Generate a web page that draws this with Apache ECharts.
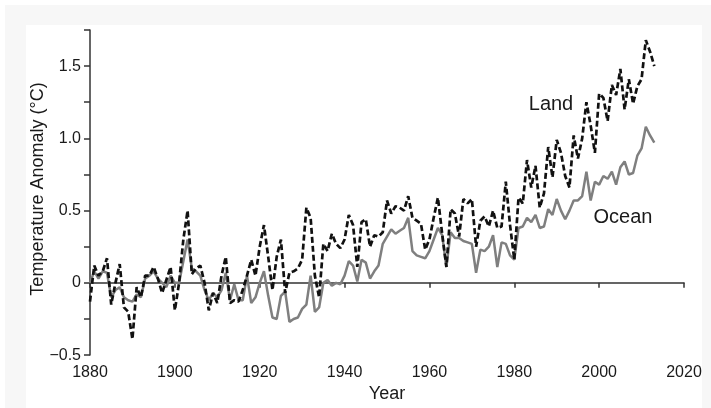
<!DOCTYPE html>
<html>
<head>
<meta charset="utf-8">
<script src="https://cdn.jsdelivr.net/npm/echarts@6/dist/echarts.min.js"></script>
<style>
html,body{margin:0;padding:0;background:#fff;}
#chart{width:711px;height:408px;}
</style>
</head>
<body>
<div id="chart"></div>
<script>
var startYear = 1880;
var endYear = 2013;
var xTicks = [1880, 1900, 1920, 1940, 1960, 1980, 2000, 2020];
var yTicks = [-0.5, 0, 0.5, 1.0, 1.5];

var land = [
 -0.13, 0.12, 0.05, 0.08, 0.17, -0.15, 0.00, 0.13, -0.17, -0.20,
 -0.39, -0.03, -0.10, 0.05, 0.05, 0.11, 0.03, -0.07, 0.02, 0.11,
 -0.19, 0.00, 0.30, 0.50, 0.06, 0.10, 0.12, 0.00, -0.19, -0.07,
 -0.14, 0.05, 0.18, -0.14, -0.12, -0.13, -0.05, 0.05, 0.16, 0.05,
 0.25, 0.40, 0.18, -0.05, 0.18, 0.30, -0.07, 0.07, 0.08, 0.10,
 0.16, 0.52, 0.45, 0.05, -0.10, 0.27, 0.22, 0.34, 0.27, 0.24,
 0.30, 0.47, 0.40, 0.11, 0.42, 0.44, 0.25, 0.33, 0.32, 0.35,
 0.57, 0.48, 0.53, 0.52, 0.50, 0.60, 0.45, 0.43, 0.41, 0.23,
 0.30, 0.45, 0.59, 0.34, 0.11, 0.51, 0.48, 0.32, 0.58, 0.55,
 0.58, 0.25, 0.43, 0.46, 0.39, 0.50, 0.38, 0.39, 0.70, 0.40,
 0.16, 0.59, 0.55, 0.85, 0.66, 0.81, 0.52, 0.62, 0.94, 0.73,
 0.99, 0.90, 0.74, 0.66, 1.02, 0.86, 1.00, 1.25, 1.09, 0.90,
 1.31, 1.28, 1.12, 1.37, 1.30, 1.48, 1.20, 1.41, 1.24, 1.36,
 1.41, 1.68, 1.60, 1.50
];

var ocean = [
 0.00, 0.08, 0.03, 0.08, 0.07, -0.10, -0.05, -0.03, -0.10, -0.12,
 -0.13, -0.08, -0.10, 0.03, 0.05, 0.08, 0.03, 0.00, -0.03, 0.05,
 0.00, 0.00, 0.15, 0.30, 0.10, 0.08, 0.05, -0.05, -0.12, -0.07,
 -0.10, -0.05, 0.07, -0.12, -0.01, -0.12, -0.12, 0.05, -0.14, -0.10,
 0.00, 0.08, -0.09, -0.24, -0.25, -0.09, -0.06, -0.27, -0.25, -0.24,
 -0.18, -0.15, 0.05, -0.20, -0.17, 0.00, 0.02, -0.02, 0.00, -0.01,
 0.05, 0.15, 0.12, 0.01, 0.16, 0.14, 0.03, 0.08, 0.12, 0.27,
 0.32, 0.37, 0.34, 0.36, 0.38, 0.45, 0.22, 0.19, 0.18, 0.17,
 0.22, 0.30, 0.38, 0.33, 0.11, 0.35, 0.31, 0.31, 0.29, 0.28,
 0.27, 0.07, 0.23, 0.22, 0.25, 0.33, 0.11, 0.28, 0.27, 0.19,
 0.16, 0.38, 0.39, 0.45, 0.42, 0.47, 0.38, 0.39, 0.51, 0.47,
 0.58, 0.50, 0.44, 0.50, 0.57, 0.57, 0.60, 0.77, 0.57, 0.70,
 0.68, 0.74, 0.72, 0.77, 0.68, 0.80, 0.84, 0.75, 0.76, 0.88,
 0.93, 1.08, 1.02, 0.97
];

var years = [];
for (var y = startYear; y <= endYear; y++) years.push(y);

function pairs(vals) {
  return vals.map(function (v, i) { return [years[i], v]; });
}

var font = "'Liberation Sans', Arial, Helvetica, sans-serif";

var chart = echarts.init(document.getElementById('chart'), null, {renderer: 'canvas'});
chart.setOption({
  animation: false,
  backgroundColor: '#ffffff',
  graphic: [
    {type: 'rect', z: -10, shape: {x: 5, y: 5, width: 706, height: 403}, style: {fill: '#f7f7f7'}},
    {type: 'rect', z: -9, shape: {x: 26, y: 25, width: 676, height: 383}, style: {fill: '#ffffff'}},
    {type: 'text', x: 551, y: 104, z: 10,
     style: {text: 'Land', font: "20px " + font, fill: '#1a1a1a', align: 'center', verticalAlign: 'middle'}},
    {type: 'text', x: 623, y: 217, z: 10,
     style: {text: 'Ocean', font: "20px " + font, fill: '#1a1a1a', align: 'center', verticalAlign: 'middle'}},
    {type: 'text', x: 29, y: 189, rotation: Math.PI / 2,
     style: {text: 'Temperature Anomaly (°C)', font: "18px " + font, fill: '#1a1a1a', align: 'center', verticalAlign: 'top'}}
  ],
  grid: {left: 90, right: 27, top: 30, bottom: 48},
  xAxis: {
    type: 'value', min: xTicks[0], max: xTicks[xTicks.length - 1], interval: 20,
    name: 'Year', nameLocation: 'middle', nameGap: 28,
    nameTextStyle: {fontFamily: font, fontSize: 18, color: '#1a1a1a'},
    axisLine: {show: true, lineStyle: {color: '#333', width: 1.5}},
    axisTick: {show: true, length: 5, lineStyle: {color: '#333', width: 1.5}},
    axisLabel: {fontFamily: font, fontSize: 16, color: '#1a1a1a', margin: 9,
      formatter: function (v) { return String(v); }},
    splitLine: {show: false}
  },
  yAxis: {
    type: 'value', min: yTicks[0], max: 1.75, interval: 0.25,
    axisLine: {show: true, lineStyle: {color: '#333', width: 1.5}},
    axisTick: {show: true, length: 6, lineStyle: {color: '#333', width: 1.5}},
    axisLabel: {
      fontFamily: font, fontSize: 16, color: '#1a1a1a', margin: 9,
      formatter: function (v) {
        var r = Math.round(v * 100) / 100;
        var hit = yTicks.some(function (t) { return Math.abs(t - r) < 1e-6; });
        if (!hit) return '';
        if (r === 0) return '0';
        return (r < 0 ? '\u2212' : '') + Math.abs(r).toFixed(1);
      }
    },
    splitLine: {show: false}
  },
  series: [
    {
      name: 'Ocean', type: 'line', data: pairs(ocean), showSymbol: false, symbol: 'none',
      lineStyle: {color: '#7f7f7f', width: 2.5}, z: 2
    },
    {
      name: 'Land', type: 'line', data: pairs(land), showSymbol: false, symbol: 'none',
      lineStyle: {color: '#111111', width: 2.7, type: [6, 3]}, z: 3
    }
  ]
});
</script>
</body>
</html>
